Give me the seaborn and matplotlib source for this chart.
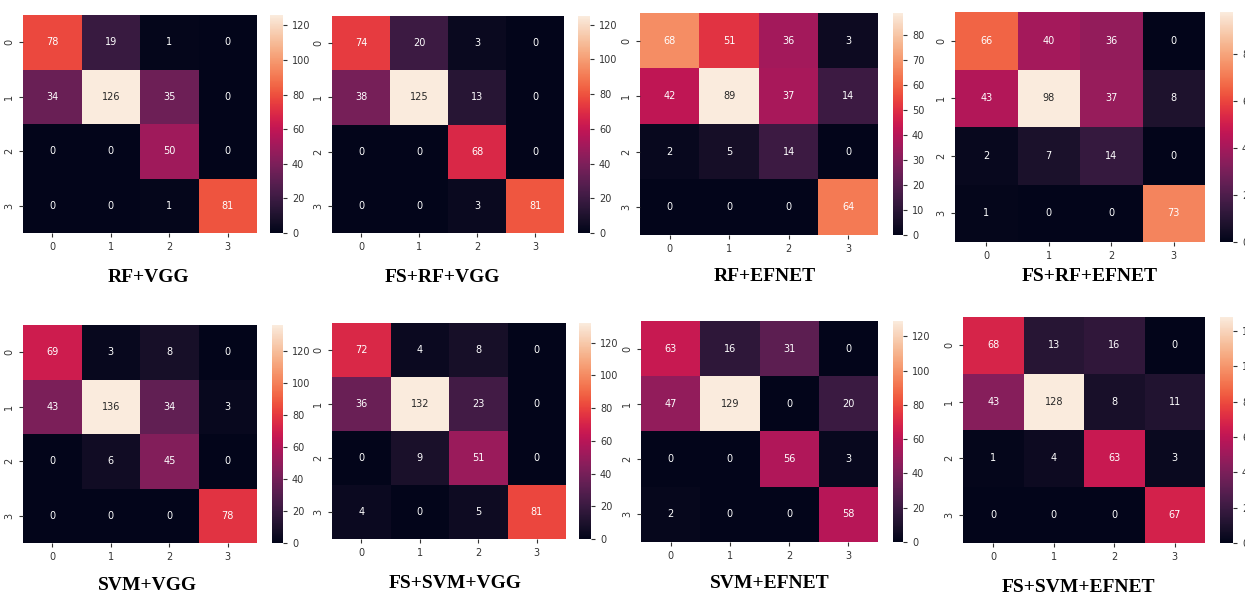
import matplotlib
matplotlib.use("Agg")
import matplotlib.pyplot as plt
import seaborn as sns
import numpy as np

# confusion matrices
rf_vgg = [[78, 19, 1, 0], [34, 126, 35, 0], [0, 0, 50, 0], [0, 0, 1, 81]]
fs_rf_vgg = [[74, 20, 3, 0], [38, 125, 13, 0], [0, 0, 68, 0], [0, 0, 3, 81]]
rf_efnet = [[68, 51, 36, 3], [42, 89, 37, 14], [2, 5, 14, 0], [0, 0, 0, 64]]
fs_rf_efnet = [[66, 40, 36, 0], [43, 98, 37, 8], [2, 7, 14, 0], [1, 0, 0, 73]]
svm_vgg = [[69, 3, 8, 0], [43, 136, 34, 3], [0, 6, 45, 0], [0, 0, 0, 78]]
fs_svm_vgg = [[72, 4, 8, 0], [36, 132, 23, 0], [0, 9, 51, 0], [4, 0, 5, 81]]
svm_efnet = [[63, 16, 31, 0], [47, 129, 0, 20], [0, 0, 56, 3], [2, 0, 0, 58]]
fs_svm_efnet = [[68, 13, 16, 0], [43, 128, 8, 11], [1, 4, 63, 3], [0, 0, 0, 67]]

titles = ["RF+VGG", "FS+RF+VGG", "RF+EFNET", "FS+RF+EFNET",
          "SVM+VGG", "FS+SVM+VGG", "SVM+EFNET", "FS+SVM+EFNET"]
matrices = [rf_vgg, fs_rf_vgg, rf_efnet, fs_rf_efnet,
            svm_vgg, fs_svm_vgg, svm_efnet, fs_svm_efnet]
class_labels = ["0", "1", "2", "3"]

W, H = 1245, 594

# pixel boxes: heatmap (x0, x1, y0, y1), colorbar (x0, x1), title (cx, cy)
layout = [
    ((23, 257, 15, 233), (270, 283), (148, 278)),
    ((332, 564, 16, 233), (578, 590), (442, 278)),
    ((640, 878, 13, 235), (893, 903), (765, 277)),
    ((955, 1205, 12, 242), (1220, 1233), (1090, 277)),
    ((23, 257, 325, 543), (272, 283), (147, 585)),
    ((332, 566, 323, 539), (579, 591), (455, 583)),
    ((641, 878, 321, 542), (893, 903), (770, 583)),
    ((963, 1205, 317, 543), (1220, 1233), (1078, 587)),
]


def box(x0, x1, y0, y1):
    return [x0 / W, 1 - y1 / H, (x1 - x0) / W, (y1 - y0) / H]


fig = plt.figure(figsize=(W / 100, H / 100), dpi=100)

for cm, title, (hm, cb, tt) in zip(matrices, titles, layout):
    ax = fig.add_axes(box(*hm))
    cax = fig.add_axes(box(cb[0], cb[1], hm[2], hm[3]))
    sns.heatmap(np.array(cm), annot=True, fmt="d", ax=ax, cbar_ax=cax,
                xticklabels=class_labels, yticklabels=class_labels,
                annot_kws={"fontsize": 7})
    ax.tick_params(labelsize=7, colors="#333333", length=3)
    ax.set_yticklabels(class_labels, rotation=90, va="center")
    cax.tick_params(labelsize=7, colors="#333333", length=3)
    fig.text(tt[0] / W, 1 - tt[1] / H, title, ha="center", va="center",
             fontsize=14, fontweight="bold", family="Liberation Serif")

fig.savefig("out.png", dpi=100)
plt.close(fig)
